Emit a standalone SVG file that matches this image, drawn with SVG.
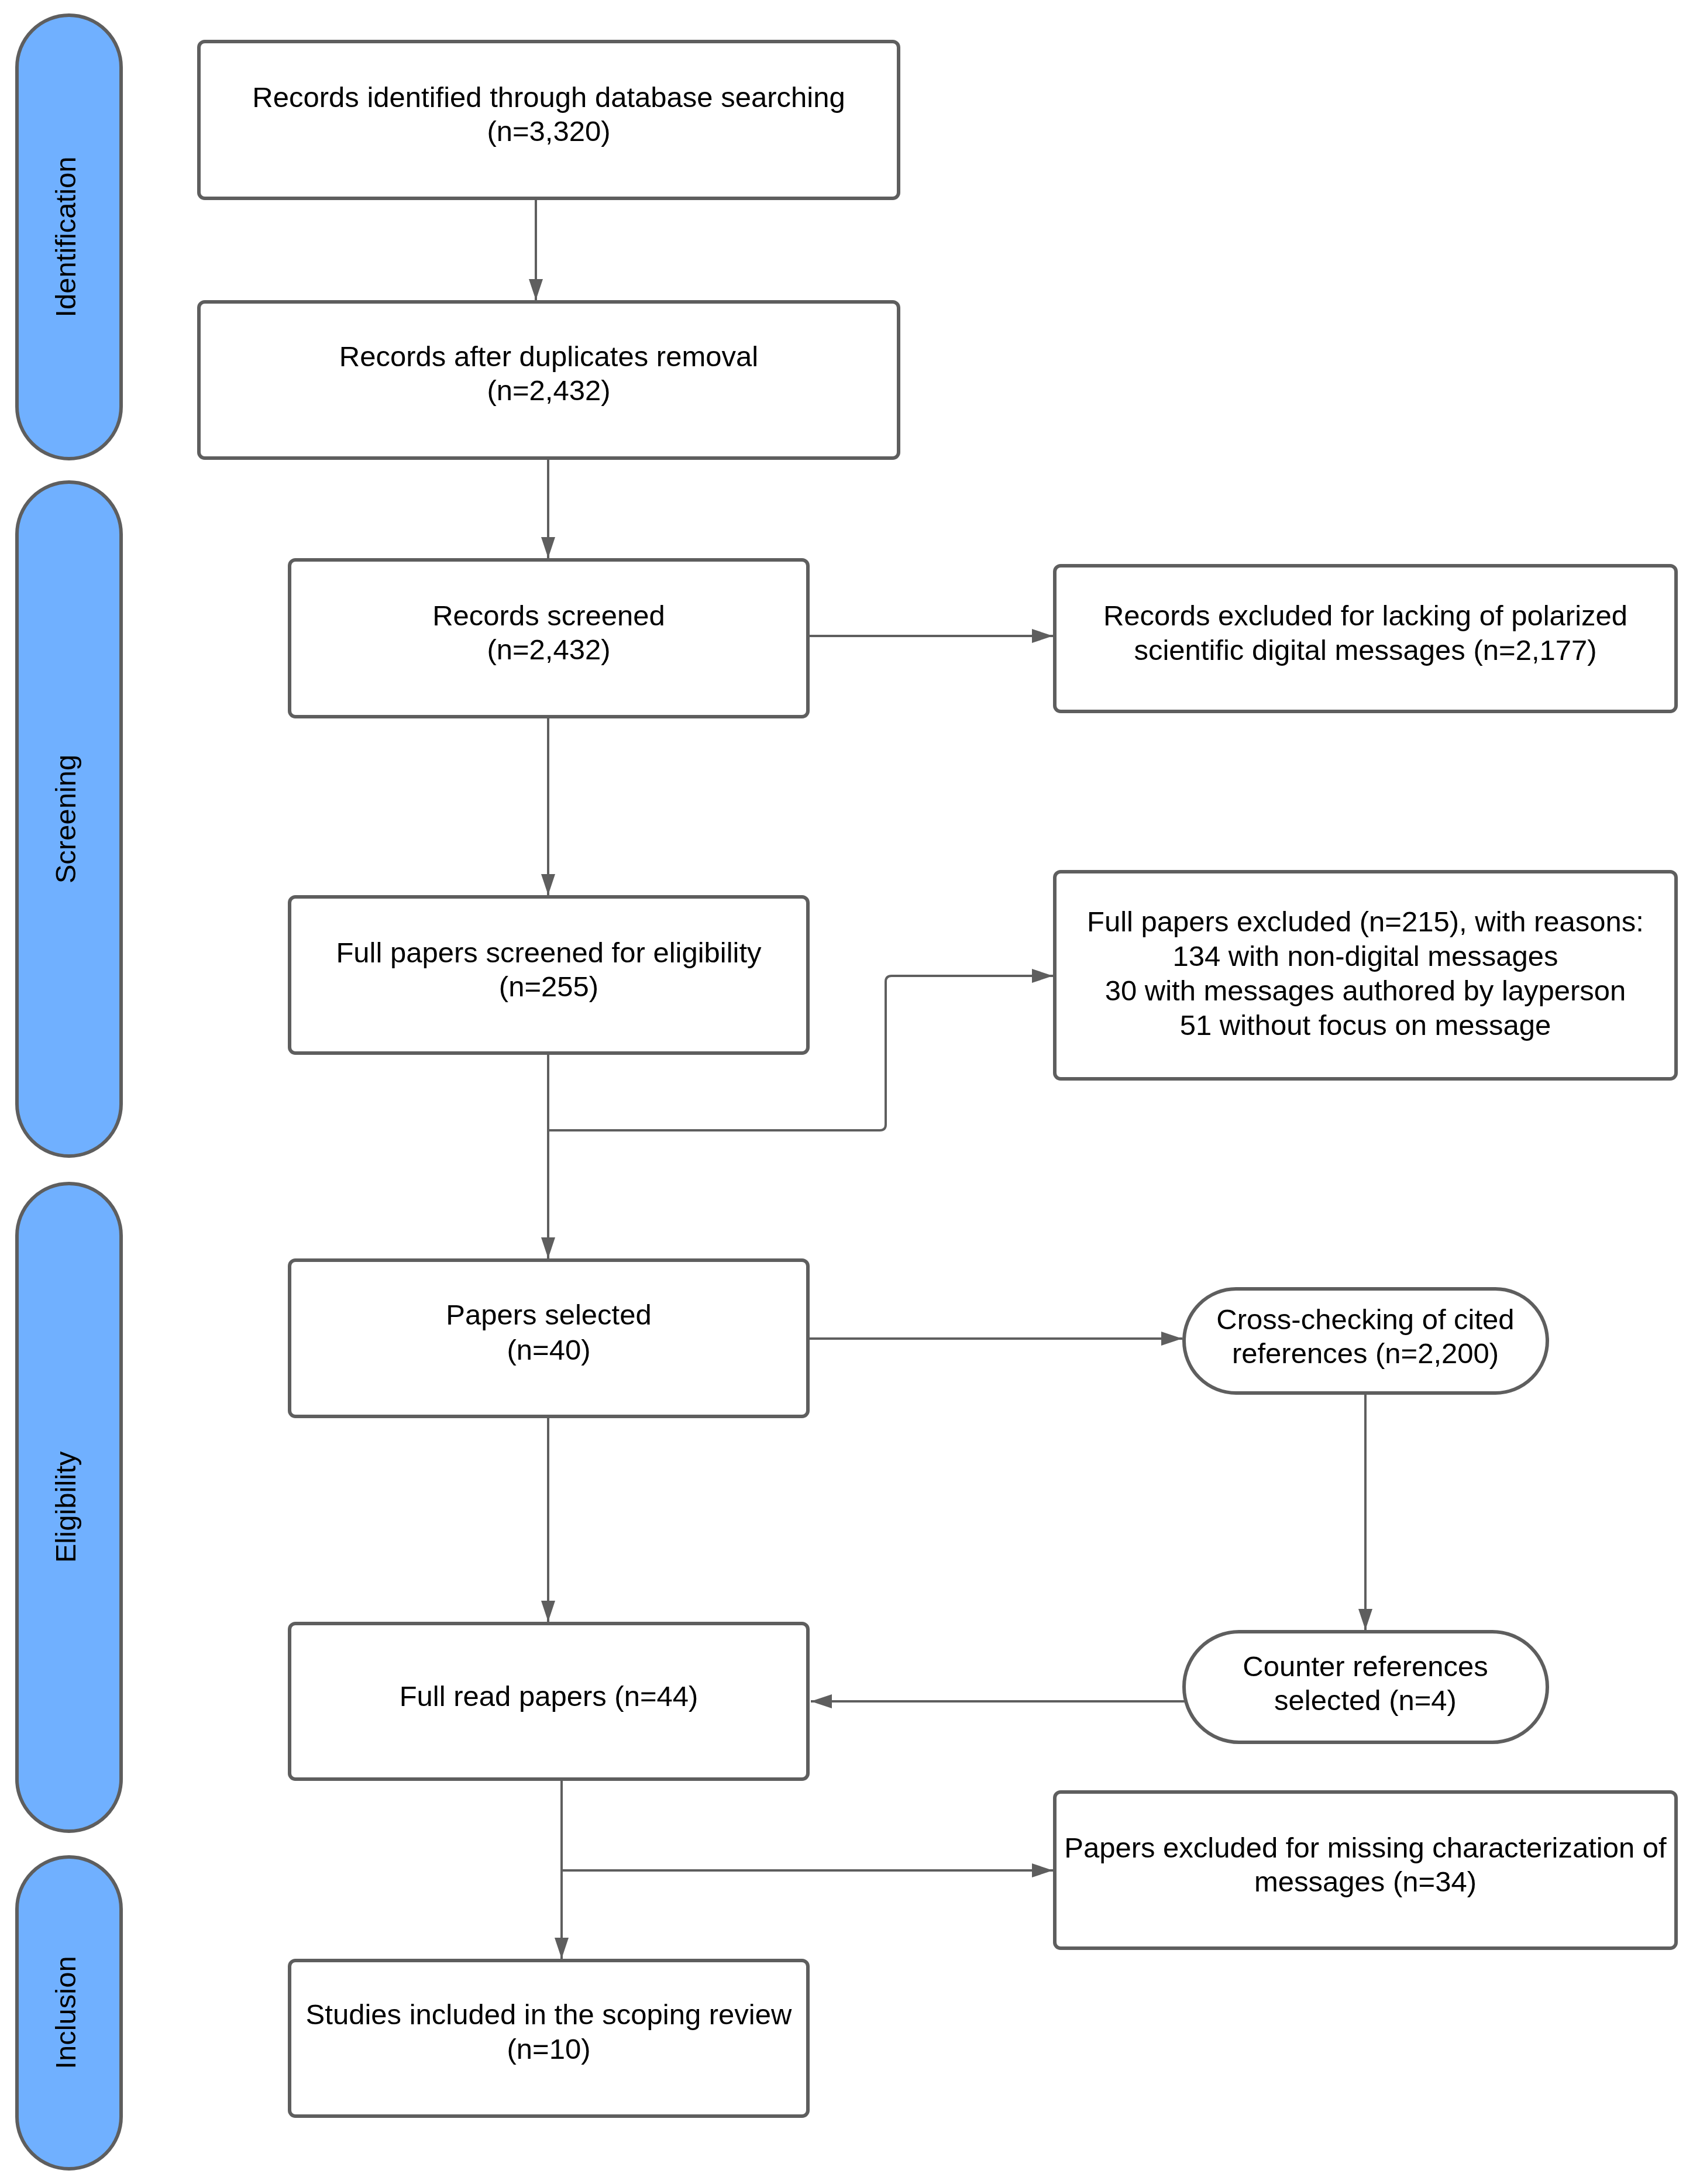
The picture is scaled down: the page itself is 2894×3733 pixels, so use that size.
<svg xmlns="http://www.w3.org/2000/svg" width="2894" height="3733" viewBox="0 0 2894 3733">
<defs>
<style>
.box{fill:#ffffff;stroke:#5e5e5e;stroke-width:6}
.phase{fill:#70b0ff;stroke:#5e5e5e;stroke-width:6}
.t{font-family:"Liberation Sans",Arial,sans-serif;font-size:49px;fill:#000;text-anchor:middle}
.edge{fill:none;stroke:#5e5e5e;stroke-width:4}
</style>
<marker id="arr" markerUnits="userSpaceOnUse" markerWidth="36" markerHeight="24" refX="36" refY="12" orient="auto">
<path d="M0,0 L36,12 L0,24 z" fill="#5e5e5e"/>
</marker>
</defs>
<rect width="2894" height="3733" fill="#ffffff"/>

<g id="phase-identification">
<rect class="phase" x="29" y="26" width="178" height="758" rx="89"/>
<text class="t" transform="translate(129,405) rotate(-90)">Identification</text>
</g>
<g id="phase-screening">
<rect class="phase" x="29" y="824" width="178" height="1152" rx="89"/>
<text class="t" transform="translate(129,1400) rotate(-90)">Screening</text>
</g>
<g id="phase-eligibility">
<rect class="phase" x="29" y="2023" width="178" height="1107" rx="89"/>
<text class="t" transform="translate(129,2576) rotate(-90)">Eligibility</text>
</g>
<g id="phase-inclusion">
<rect class="phase" x="29" y="3174" width="178" height="533" rx="89"/>
<text class="t" transform="translate(129,3440) rotate(-90)">Inclusion</text>
</g>

<g id="connectors">
<line class="edge" x1="916" y1="339" x2="916" y2="513" marker-end="url(#arr)"/>
<line class="edge" x1="937" y1="783" x2="937" y2="954" marker-end="url(#arr)"/>
<line class="edge" x1="1381" y1="1087" x2="1800" y2="1087" marker-end="url(#arr)"/>
<line class="edge" x1="937" y1="1225" x2="937" y2="1530" marker-end="url(#arr)"/>
<line class="edge" x1="937" y1="1800" x2="937" y2="2151" marker-end="url(#arr)"/>
<path class="edge" d="M937,1932 L1504,1932 Q1514,1932 1514,1922 L1514,1678 Q1514,1668 1524,1668 L1800,1668" marker-end="url(#arr)"/>
<line class="edge" x1="1381" y1="2288" x2="2021" y2="2288" marker-end="url(#arr)"/>
<line class="edge" x1="937" y1="2421" x2="937" y2="2772" marker-end="url(#arr)"/>
<line class="edge" x1="2334" y1="2381" x2="2334" y2="2786" marker-end="url(#arr)"/>
<line class="edge" x1="2027" y1="2908" x2="1386" y2="2908" marker-end="url(#arr)"/>
<line class="edge" x1="960" y1="3041" x2="960" y2="3348" marker-end="url(#arr)"/>
<line class="edge" x1="960" y1="3197" x2="1800" y2="3197" marker-end="url(#arr)"/>
</g>

<g id="n-identified">
<rect class="box" x="340" y="71" width="1196" height="268" rx="10"/>
<text class="t" x="938" y="183">Records identified through database searching</text>
<text class="t" x="938" y="241">(n=3,320)</text>
</g>
<g id="n-dedup">
<rect class="box" x="340" y="516" width="1196" height="267" rx="10"/>
<text class="t" x="938" y="626">Records after duplicates removal</text>
<text class="t" x="938" y="684">(n=2,432)</text>
</g>
<g id="n-screened">
<rect class="box" x="495" y="957" width="886" height="268" rx="10"/>
<text class="t" x="938" y="1069">Records screened</text>
<text class="t" x="938" y="1127">(n=2,432)</text>
</g>
<g id="n-excluded1">
<rect class="box" x="1803" y="967" width="1062" height="249" rx="10"/>
<text class="t" x="2334" y="1069">Records excluded for lacking of polarized</text>
<text class="t" x="2334" y="1128">scientific digital messages (n=2,177)</text>
</g>
<g id="n-fullscreened">
<rect class="box" x="495" y="1533" width="886" height="267" rx="10"/>
<text class="t" x="938" y="1645">Full papers screened for eligibility</text>
<text class="t" x="938" y="1703">(n=255)</text>
</g>
<g id="n-excluded2">
<rect class="box" x="1803" y="1490" width="1062" height="354" rx="10"/>
<text class="t" x="2334" y="1592">Full papers excluded (n=215), with reasons:</text>
<text class="t" x="2334" y="1651">134 with non-digital messages</text>
<text class="t" x="2334" y="1710">30 with messages authored by layperson</text>
<text class="t" x="2334" y="1769">51 without focus on message</text>
</g>
<g id="n-selected">
<rect class="box" x="495" y="2154" width="886" height="267" rx="10"/>
<text class="t" x="938" y="2264">Papers selected</text>
<text class="t" x="938" y="2324">(n=40)</text>
</g>
<g id="n-crosscheck">
<rect class="box" x="2024" y="2203" width="621" height="178" rx="89"/>
<text class="t" x="2334" y="2272">Cross-checking of cited</text>
<text class="t" x="2334" y="2330">references (n=2,200)</text>
</g>
<g id="n-counter">
<rect class="box" x="2024" y="2789" width="621" height="189" rx="94"/>
<text class="t" x="2334" y="2865">Counter references</text>
<text class="t" x="2334" y="2923">selected (n=4)</text>
</g>
<g id="n-fullread">
<rect class="box" x="495" y="2775" width="886" height="266" rx="10"/>
<text class="t" x="938" y="2916">Full read papers (n=44)</text>
</g>
<g id="n-excluded3">
<rect class="box" x="1803" y="3063" width="1062" height="267" rx="10"/>
<text class="t" x="2334" y="3175">Papers excluded for missing characterization of</text>
<text class="t" x="2334" y="3233">messages (n=34)</text>
</g>
<g id="n-included">
<rect class="box" x="495" y="3351" width="886" height="266" rx="10"/>
<text class="t" x="938" y="3460">Studies included in the scoping review</text>
<text class="t" x="938" y="3519">(n=10)</text>
</g>
</svg>
